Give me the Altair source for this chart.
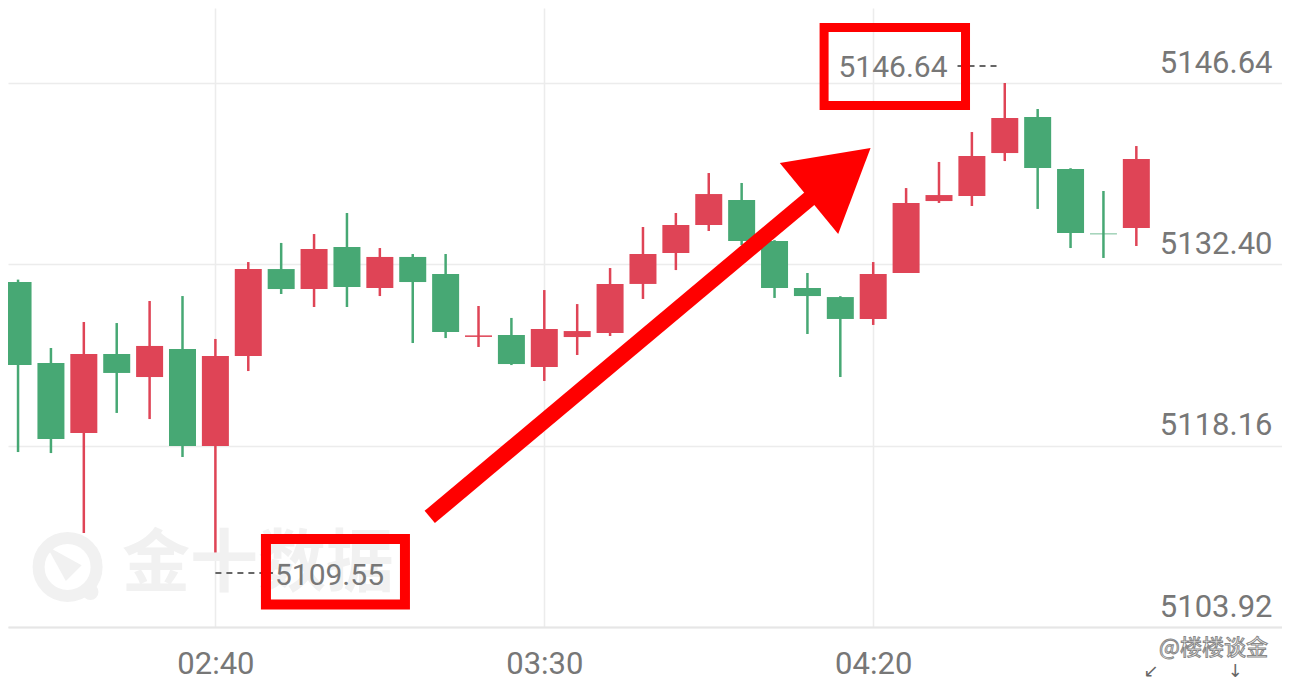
import altair as alt
import pandas as pd

# ---------------- data ----------------
times = ["02:10", "02:15", "02:20", "02:25", "02:30", "02:35", "02:40", "02:45", "02:50", "02:55",
         "03:00", "03:05", "03:10", "03:15", "03:20", "03:25", "03:30", "03:35", "03:40", "03:45",
         "03:50", "03:55", "04:00", "04:05", "04:10", "04:15", "04:20", "04:25", "04:30", "04:35",
         "04:40", "04:45", "04:50", "04:55", "05:00"]
opens = [5131.01, 5124.65, 5119.15, 5125.36, 5123.55, 5125.75, 5118.13, 5125.20, 5132.03, 5130.46,
         5133.76, 5130.54, 5132.98, 5131.64, 5126.70, 5126.85, 5124.34, 5126.69, 5127.01, 5130.86,
         5133.29, 5135.49, 5137.45, 5134.23, 5130.54, 5129.83, 5128.11, 5131.72, 5137.37, 5137.77,
         5141.14, 5143.97, 5139.89, 5134.82, 5135.25]
highs = [5131.20, 5125.83, 5127.87, 5127.79, 5129.52, 5129.91, 5126.54, 5132.58, 5134.08, 5134.78,
         5136.43, 5133.68, 5133.21, 5133.21, 5129.13, 5128.19, 5130.38, 5129.28, 5132.11, 5135.33,
         5136.43, 5139.57, 5138.79, 5134.30, 5131.72, 5129.90, 5132.58, 5138.39, 5140.44, 5142.79,
         5146.64, 5144.60, 5139.95, 5138.16, 5141.69]
lows = [5117.66, 5117.58, 5111.30, 5120.73, 5120.25, 5117.27, 5109.55, 5124.02, 5130.07, 5129.05,
        5129.05, 5129.91, 5126.22, 5126.61, 5125.91, 5124.49, 5123.24, 5125.28, 5126.77, 5129.68,
        5131.95, 5135.02, 5133.92, 5129.76, 5126.93, 5123.55, 5127.64, 5131.72, 5137.22, 5136.98,
        5140.51, 5136.75, 5133.68, 5132.90, 5133.84]
closes = [5124.49, 5118.68, 5125.36, 5123.87, 5125.99, 5118.13, 5125.20, 5132.03, 5130.46, 5133.60,
          5130.62, 5132.98, 5131.01, 5127.09, 5126.82, 5124.57, 5127.32, 5127.16, 5130.86, 5133.21,
          5135.49, 5137.92, 5134.23, 5130.54, 5129.91, 5128.11, 5131.64, 5137.22, 5137.84, 5140.91,
          5143.89, 5139.96, 5134.86, 5134.76, 5140.67]

y_ticks = [5103.92, 5118.16, 5132.40, 5146.64]
x_ticks = ["02:40", "03:30", "04:20"]
y_domain = [5103.92, 5152.53]
x_domain = ["02:09:14", "05:21:23"]

# annotations (time, price)
max_label = {"t": "04:14:43", "v": 5147.11, "text": "5146.64"}
min_label = {"t": "02:49:03", "v": 5107.22, "text": "5109.55"}
dash_t0 = ["04:32:49", "02:40:00"]
dash_t1 = ["04:39:28", "02:48:45"]
dash_v = [5147.97, 5108.16]
box_t0 = ["04:12:32", "02:47:41"]
box_t1 = ["04:34:02", "03:08:49"]
box_v0 = [5151.00, 5110.83]
box_v1 = [5144.87, 5105.69]
box_w = [9, 10]
arrow_t = ["03:12:35", "04:10:57"]
arrow_v = [5112.56, 5137.84]
head = {"t": "04:14:55", "v": 5139.55}
wm_text = {"t": "02:25:49", "v": 5108.71, "text": "金十数据"}
wm_ring = {"t": "02:17:32", "v": 5108.63}
wm_dot = {"t": "02:21:00", "v": 5106.67}
sig_text = {"t": "05:11:44", "v": 5102.27, "text": "@楼楼谈金"}
corner_arrows = {"t": ["05:02:14", "05:15:03"], "v": [5100.36, 5100.36], "text": ["↙", "↓"]}

UP = "#DF4456"
DOWN = "#47A874"
RED = "#FF0000"
GREY = "#777777"
WM = "#f1f1f1"
FONT = "Roboto"
DAY = "2024-01-01T"


def ts(s):
    return DAY + (s if s.count(":") == 2 else s + ":00")


def dt(s):
    p = [int(a) for a in (s if s.count(":") == 2 else s + ":00").split(":")]
    return alt.DateTime(year=2024, month=1, date=1, hours=p[0], minutes=p[1], seconds=p[2])


df = pd.DataFrame({
    "t": [ts(s) for s in times],
    "open": opens, "high": highs, "low": lows, "close": closes,
})
df["dir"] = ["up" if c >= o else "down" for o, c in zip(opens, closes)]

xscale = alt.Scale(domain=[dt(x_domain[0]), dt(x_domain[1])], nice=False)
yscale = alt.Scale(domain=y_domain, nice=False, zero=False)

xaxis = alt.Axis(values=[dt(s) for s in x_ticks], format="%H:%M", title=None,
                 labelFont=FONT, labelFontSize=31, labelColor=GREY, labelPadding=46,
                 labelBaseline="alphabetic", labelAlign="center", ticks=False, tickSize=0,
                 domain=True, domainColor="#e6e6e6", domainWidth=2,
                 grid=True, gridColor="#ececec", gridWidth=1.5, labelFlush=False)
yaxis = alt.Axis(values=y_ticks, format=".2f", title=None, orient="right",
                 labelFont=FONT, labelFontSize=31, labelColor=GREY, labelPadding=-10,
                 labelAlign="right", labelBaseline="alphabetic", labelOffset=-11,
                 ticks=False, tickSize=0, domain=False,
                 grid=True, gridColor="#ececec", gridWidth=1.5)

color = alt.Color("dir:N", scale=alt.Scale(domain=["up", "down"], range=[UP, DOWN]), legend=None)


def X(field):
    return alt.X(field, scale=xscale, axis=xaxis)


def Y(field):
    return alt.Y(field, scale=yscale, axis=yaxis)


# watermark
wm_df = pd.DataFrame({"t": [ts(wm_text["t"])], "v": [wm_text["v"]], "text": [wm_text["text"]]})
wm = alt.Chart(wm_df).mark_text(font="Noto Sans CJK SC", fontWeight="bold", fontSize=68,
                                color=WM, align="left", baseline="middle").encode(
    x=X("t:T"), y=Y("v:Q"), text="text:N")
ring_df = pd.DataFrame({"t": [ts(wm_ring["t"])], "v": [wm_ring["v"]]})
ring = alt.Chart(ring_df).mark_point(shape="circle", size=3364, filled=False, strokeWidth=12,
                                     color=WM, opacity=1).encode(x=X("t:T"), y=Y("v:Q"))
needle = alt.Chart(ring_df).mark_point(shape="M -0.6,-0.6 L 0.4,-0.05 L -0.05,0.4 Z", size=4900,
                                       filled=True, color=WM, opacity=1).encode(x=X("t:T"), y=Y("v:Q"))
dot_df = pd.DataFrame({"t": [ts(wm_dot["t"])], "v": [wm_dot["v"]]})
dot = alt.Chart(dot_df).mark_point(shape="circle", size=260, filled=True, color=WM,
                                   opacity=1).encode(x=X("t:T"), y=Y("v:Q"))

# candles
wicks = alt.Chart(df).mark_rule(strokeWidth=2.5).encode(
    x=X("t:T"), y=Y("low:Q"), y2="high:Q", color=color)
bodies = alt.Chart(df).mark_bar(size=27).encode(
    x=X("t:T"), y=Y("open:Q"), y2="close:Q", color=color)

# max / min markers
lab_df = pd.DataFrame({"t": [ts(max_label["t"]), ts(min_label["t"])],
                       "v": [max_label["v"], min_label["v"]],
                       "text": [max_label["text"], min_label["text"]]})
labels = alt.Chart(lab_df).mark_text(font=FONT, fontSize=30, color=GREY, align="left",
                                     baseline="alphabetic").encode(
    x=X("t:T"), y=Y("v:Q"), text="text:N")
dash_df = pd.DataFrame({"t0": [ts(s) for s in dash_t0], "t1": [ts(s) for s in dash_t1], "v": dash_v})
dashes = alt.Chart(dash_df).mark_rule(strokeWidth=2, strokeDash=[6, 5], color="#666666").encode(
    x=X("t0:T"), x2="t1:T", y=Y("v:Q"))
box_layers = []
for i in range(2):
    bdf = pd.DataFrame({"t0": [ts(box_t0[i])], "t1": [ts(box_t1[i])], "v0": [box_v0[i]], "v1": [box_v1[i]]})
    box_layers.append(alt.Chart(bdf).mark_rect(filled=False, stroke=RED, strokeWidth=box_w[i]).encode(
        x=X("t0:T"), x2="t1:T", y=Y("v0:Q"), y2="v1:Q"))

# arrow
arr_df = pd.DataFrame({"t0": [ts(arrow_t[0])], "t1": [ts(arrow_t[1])], "v0": [arrow_v[0]], "v1": [arrow_v[1]]})
shaft = alt.Chart(arr_df).mark_rule(strokeWidth=16, color=RED, strokeCap="butt").encode(
    x=X("t0:T"), x2="t1:T", y=Y("v0:Q"), y2="v1:Q")
head_df = pd.DataFrame({"t": [ts(head["t"])], "v": [head["v"]]})
arrowhead = alt.Chart(head_df).mark_point(shape="triangle-up", size=8464, angle=50.6, filled=True,
                                          color=RED, opacity=1).encode(x=X("t:T"), y=Y("v:Q"))

# signature
sig_df = pd.DataFrame({"t": [ts(sig_text["t"])], "v": [sig_text["v"]], "text": [sig_text["text"]]})
sig = alt.Chart(sig_df).mark_text(font="Noto Sans CJK SC", fontSize=22, color="#ffffff",
                                  stroke="#888888", strokeWidth=1, align="center",
                                  baseline="middle").encode(x=X("t:T"), y=Y("v:Q"), text="text:N")
ca_df = pd.DataFrame({"t": [ts(s) for s in corner_arrows["t"]], "v": corner_arrows["v"],
                      "text": corner_arrows["text"]})
cas = alt.Chart(ca_df).mark_text(font="DejaVu Sans", fontSize=18, color="#666666", align="center",
                                 baseline="middle").encode(x=X("t:T"), y=Y("v:Q"), text="text:N")

chart = alt.layer(wicks, wm, ring, needle, dot, bodies, dashes, labels, *box_layers, shaft, arrowhead,
                  sig, cas).properties(
    width=1274, height=619,
    autosize=alt.AutoSizeParams(type="none"),
    padding={"left": 0, "top": 0, "right": 0, "bottom": 54},
    background="#ffffff",
).configure_view(strokeWidth=0)

chart.save("out.html", embed_options={"renderer": "svg", "actions": False})
